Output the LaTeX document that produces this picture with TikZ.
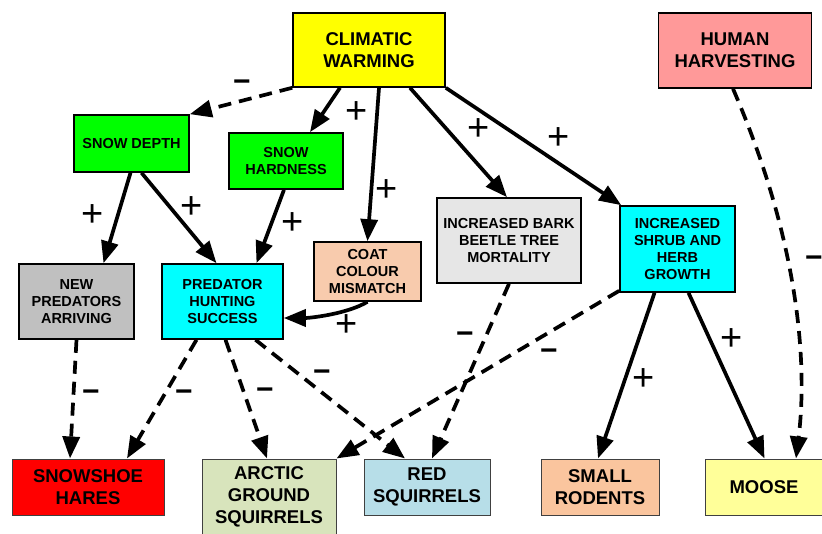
\documentclass[tikz,border=0pt]{standalone}
\usepackage{fontspec}
\setmainfont{Liberation Sans}
\usetikzlibrary{arrows.meta}
\definecolor{warmcolor}{RGB}{255, 255, 0}
\definecolor{harvestcolor}{RGB}{255, 153, 153}
\definecolor{snowcolor}{RGB}{0, 255, 0}
\definecolor{coatcolor}{RGB}{248, 203, 173}
\definecolor{barkcolor}{RGB}{230, 230, 230}
\definecolor{shrubcolor}{RGB}{0, 255, 255}
\definecolor{predcolor}{RGB}{192, 192, 192}
\definecolor{harecolor}{RGB}{255, 0, 0}
\definecolor{agscolor}{RGB}{216, 228, 188}
\definecolor{redsqcolor}{RGB}{183, 222, 232}
\definecolor{rodentcolor}{RGB}{250, 197, 158}
\definecolor{moosecolor}{RGB}{255, 255, 153}

\begin{document}
\begin{tikzpicture}[x=1pt, y=-1pt,
    driver/.style={draw=black, line width=1.6pt, align=center,
                   font=\fontsize{14.5}{17}\selectfont\bfseries},
    bigdriver/.style={driver, font=\fontsize{18.5}{22}\selectfont\bfseries},
    species/.style={draw=black!75, line width=1pt, align=center,
                    font=\fontsize{18.5}{22}\selectfont\bfseries},
    inc/.style={line width=3.7pt, -{Triangle[length=22pt, width=17pt]}},
    dec/.style={inc, dash pattern=on 13pt off 8pt},
    poslabel/.style={font=\fontsize{38}{38}\selectfont, inner sep=0pt},
    neglabel/.style={font=\fontsize{30}{30}\selectfont\bfseries, inner sep=0pt}]
  \useasboundingbox (0,0) rectangle (822,534);

  % drivers
  \node[bigdriver, fill=warmcolor, minimum width=152pt, minimum height=74pt] (cw)
        at (369,50) {CLIMATIC\\WARMING};
  \node[bigdriver, fill=harvestcolor, minimum width=153pt, minimum height=75pt] (hh)
        at (735,50.5) {HUMAN\\HARVESTING};
  \node[driver, fill=snowcolor, minimum width=115pt, minimum height=57pt] (sd)
        at (131.5,143.5) {SNOW DEPTH};
  \node[driver, fill=snowcolor, minimum width=114pt, minimum height=56pt] (sh)
        at (286,161) {SNOW\\HARDNESS};
  \node[driver, fill=coatcolor, minimum width=107pt, minimum height=59pt] (ccm)
        at (367.5,271.5) {COAT\\COLOUR\\MISMATCH};
  \node[driver, fill=barkcolor, minimum width=144pt, minimum height=85pt] (bark)
        at (509,240.5) {INCREASED BARK\\BEETLE TREE\\MORTALITY};
  \node[driver, fill=shrubcolor, minimum width=115pt, minimum height=86pt] (shrub)
        at (677.5,249) {INCREASED\\SHRUB AND\\HERB\\GROWTH};
  \node[driver, fill=predcolor, minimum width=115pt, minimum height=75pt] (np)
        at (76.5,301.5) {NEW\\PREDATORS\\ARRIVING};
  \node[driver, fill=shrubcolor, minimum width=121pt, minimum height=75pt] (phs)
        at (222.5,301.5) {PREDATOR\\HUNTING\\SUCCESS};

  % species
  \node[species, fill=harecolor, minimum width=152pt, minimum height=56pt] (hares)
        at (88,487) {SNOWSHOE\\HARES};
  \node[species, fill=agscolor, minimum width=134pt, minimum height=75pt] (ags)
        at (269,496.5) {ARCTIC\\GROUND\\SQUIRRELS};
  \node[species, fill=redsqcolor, minimum width=126pt, minimum height=56pt] (rs)
        at (427,487) {RED\\SQUIRRELS};
  \node[species, fill=rodentcolor, minimum width=118pt, minimum height=56pt] (sr)
        at (600,487) {SMALL\\RODENTS};
  \node[species, fill=moosecolor, minimum width=119pt, minimum height=56pt] (moose)
        at (764.5,487) {\hspace*{-1pt}MOOSE};

  % links
  \draw[dec] (cw.south west) -- (sd.north east);
  \draw[inc] ([xshift=-29pt]cw.south) -- ([xshift=24pt]sh.north);
  \draw[inc] ([xshift=10pt]cw.south) -- (ccm.north);
  \draw[inc] ([xshift=41pt]cw.south) -- ([xshift=-2pt]bark.north);
  \draw[inc] (cw.south east) -- ([xshift=2pt]shrub.north west);
  \draw[dec] ([xshift=-2pt]hh.south) .. controls +(65,150) and +(12,-97)
        .. ([xshift=31.5pt]moose.north);
  \draw[inc] ([xshift=-1pt]sd.south) -- ([xshift=27pt]np.north);
  \draw[inc] ([xshift=10pt]sd.south) -- ([xshift=-6pt]phs.north);
  \draw[inc] ([xshift=-2pt]sh.south) -- ([xshift=34pt]phs.north);
  \draw[inc] (ccm.south) .. controls +(-20,12) and +(27,0) .. ([yshift=-16.5pt]phs.east);
  \draw[dec] (np.south) -- ([xshift=-18pt]hares.north);
  \draw[dec] ([xshift=-26pt]phs.south) -- ([xshift=39pt]hares.north);
  \draw[dec] ([xshift=3pt]phs.south) -- ([xshift=-2pt]ags.north);
  \draw[dec] ([xshift=33pt]phs.south) -- ([xshift=-22pt]rs.north);
  \draw[dec] (bark.south) -- ([xshift=5pt]rs.north);
  \draw[dec] ([yshift=2pt]shrub.south west) -- (ags.north east);
  \draw[inc] ([xshift=-23pt]shrub.south) -- ([xshift=-2pt]sr.north);
  \draw[inc] ([xshift=11pt]shrub.south) -- (moose.north);

  % signs
  \node[neglabel] (m1) at (242,86) {−};
  \node[poslabel] (p1) at (357,113) {+};
  \node[poslabel] (p2) at (387,191) {+};
  \node[poslabel] (p3) at (479,130) {+};
  \node[poslabel] (p4) at (559,139) {+};
  \node[neglabel] (m2) at (814,262) {−};
  \node[poslabel] (p5) at (93,216) {+};
  \node[poslabel] (p6) at (192,208) {+};
  \node[poslabel] (p7) at (293,224) {+};
  \node[poslabel] (p8) at (347,326) {+};
  \node[neglabel] (m3) at (91,396) {−};
  \node[neglabel] (m4) at (184,396) {−};
  \node[neglabel] (m5) at (265,394) {−};
  \node[neglabel] (m6) at (322,376) {−};
  \node[neglabel] (m7) at (465,338) {−};
  \node[neglabel] (m8) at (549,355) {−};
  \node[poslabel] (p9) at (644,380) {+};
  \node[poslabel] (p10) at (732,340) {+};
\end{tikzpicture}
\end{document}
